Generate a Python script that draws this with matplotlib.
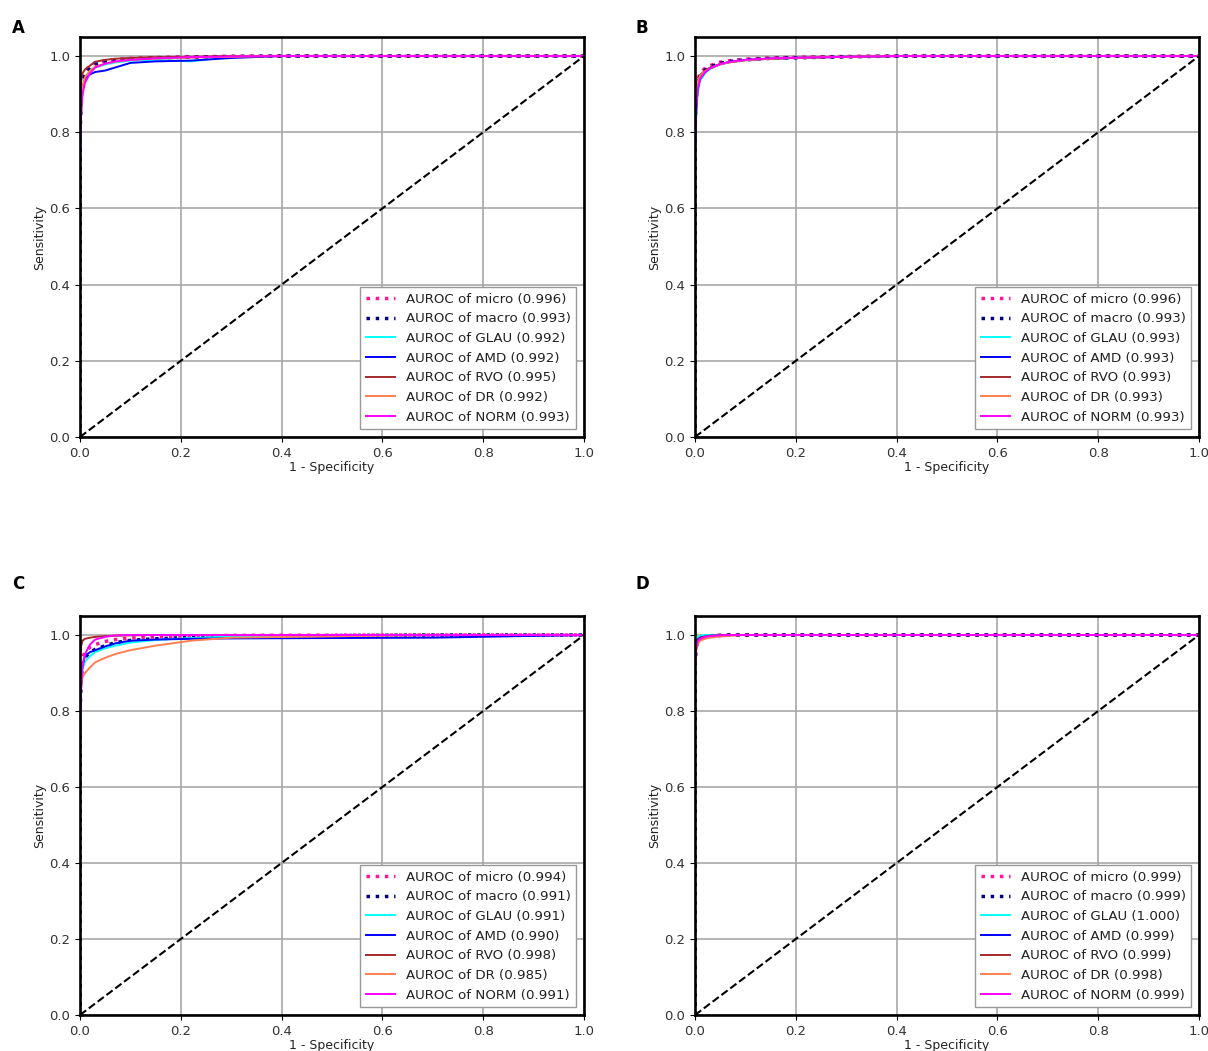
import matplotlib
matplotlib.use("Agg")
import matplotlib.pyplot as plt

CLASS_NAMES = ["GLAU", "AMD", "RVO", "DR", "NORM"]
CLASS_COLORS = ["aqua", "blue", "brown", "coral", "magenta"]
PANEL_LETTERS = ["A", "B", "C", "D"]

# AUROC values shown in the legends (micro, macro, GLAU, AMD, RVO, DR, NORM)
AUC_A = [0.996, 0.993, 0.992, 0.992, 0.995, 0.992, 0.993]
AUC_B = [0.996, 0.993, 0.993, 0.993, 0.993, 0.993, 0.993]
AUC_C = [0.994, 0.991, 0.991, 0.990, 0.998, 0.985, 0.991]
AUC_D = [0.999, 0.999, 1.000, 0.999, 0.999, 0.998, 0.999]

# shared false positive rate points per panel
FPR_A = [0, 0, 0.002, 0.005, 0.01, 0.02, 0.03, 0.05, 0.07, 0.1, 0.15, 0.22, 0.3, 0.4, 1.0]
FPR_B = [0, 0, 0.002, 0.005, 0.01, 0.02, 0.03, 0.05, 0.07, 0.1, 0.15, 0.22, 0.3, 0.4, 1.0]
FPR_C = [0, 0, 0.002, 0.005, 0.01, 0.02, 0.03, 0.05, 0.07, 0.1, 0.15, 0.22, 0.3, 0.7, 1.0]
FPR_D = [0, 0, 0.002, 0.005, 0.01, 0.02, 0.03, 0.05, 0.07, 0.1, 0.15, 0.22, 0.3, 0.4, 1.0]

# panel A true positive rates
A_MICRO = [0, 0.80, 0.90, 0.94, 0.960, 0.975, 0.982, 0.988, 0.991, 0.994, 0.996, 0.998, 0.999, 1.0, 1.0]
A_MACRO = [0, 0.78, 0.88, 0.93, 0.955, 0.970, 0.978, 0.985, 0.989, 0.992, 0.995, 0.997, 0.999, 1.0, 1.0]
A_GLAU = [0, 0.75, 0.85, 0.91, 0.940, 0.960, 0.970, 0.978, 0.983, 0.988, 0.990, 0.986, 0.998, 1.0, 1.0]
A_AMD = [0, 0.80, 0.88, 0.92, 0.940, 0.952, 0.958, 0.962, 0.970, 0.982, 0.986, 0.988, 0.995, 1.0, 1.0]
A_RVO = [0, 0.88, 0.93, 0.955, 0.965, 0.975, 0.985, 0.990, 0.993, 0.995, 0.997, 0.998, 1.0, 1.0, 1.0]
A_DR = [0, 0.78, 0.87, 0.92, 0.945, 0.962, 0.972, 0.980, 0.985, 0.990, 0.993, 0.996, 0.998, 1.0, 1.0]
A_NORM = [0, 0.72, 0.84, 0.90, 0.930, 0.955, 0.970, 0.980, 0.986, 0.990, 0.994, 0.997, 0.999, 1.0, 1.0]

# panel B true positive rates
B_MICRO = [0, 0.82, 0.90, 0.935, 0.955, 0.968, 0.975, 0.984, 0.988, 0.992, 0.995, 0.997, 0.999, 1.0, 1.0]
B_MACRO = [0, 0.80, 0.88, 0.925, 0.948, 0.963, 0.972, 0.981, 0.986, 0.990, 0.994, 0.996, 0.998, 1.0, 1.0]
B_GLAU = [0, 0.72, 0.83, 0.90, 0.935, 0.955, 0.966, 0.978, 0.984, 0.989, 0.993, 0.996, 0.998, 1.0, 1.0]
B_AMD = [0, 0.76, 0.85, 0.91, 0.940, 0.958, 0.968, 0.979, 0.985, 0.990, 0.993, 0.996, 0.998, 1.0, 1.0]
B_RVO = [0, 0.86, 0.91, 0.935, 0.950, 0.962, 0.970, 0.979, 0.984, 0.989, 0.993, 0.996, 0.998, 1.0, 1.0]
B_DR = [0, 0.84, 0.90, 0.930, 0.948, 0.960, 0.968, 0.978, 0.984, 0.989, 0.993, 0.996, 0.998, 1.0, 1.0]
B_NORM = [0, 0.74, 0.85, 0.91, 0.940, 0.958, 0.968, 0.979, 0.985, 0.990, 0.994, 0.996, 0.998, 1.0, 1.0]

# panel C true positive rates
C_MICRO = [0, 0.80, 0.90, 0.94, 0.955, 0.968, 0.975, 0.983, 0.988, 0.992, 0.995, 0.997, 0.999, 1.0, 1.0]
C_MACRO = [0, 0.78, 0.88, 0.92, 0.940, 0.955, 0.962, 0.972, 0.980, 0.986, 0.990, 0.994, 0.997, 1.0, 1.0]
C_GLAU = [0, 0.74, 0.86, 0.91, 0.930, 0.945, 0.955, 0.965, 0.972, 0.980, 0.987, 0.992, 0.996, 1.0, 1.0]
C_AMD = [0, 0.80, 0.88, 0.92, 0.945, 0.955, 0.960, 0.970, 0.978, 0.985, 0.988, 0.990, 0.991, 0.993, 1.0]
C_RVO = [0, 0.94, 0.97, 0.985, 0.990, 0.993, 0.995, 0.997, 0.998, 0.999, 1.0, 1.0, 1.0, 1.0, 1.0]
C_DR = [0, 0.78, 0.86, 0.89, 0.900, 0.915, 0.928, 0.940, 0.950, 0.960, 0.972, 0.985, 0.993, 1.0, 1.0]
C_NORM = [0, 0.70, 0.85, 0.92, 0.950, 0.975, 0.988, 0.995, 0.999, 1.0, 1.0, 1.0, 1.0, 1.0, 1.0]

# panel D true positive rates
D_MICRO = [0, 0.93, 0.97, 0.985, 0.992, 0.996, 0.998, 0.999, 1.0, 1.0, 1.0, 1.0, 1.0, 1.0, 1.0]
D_MACRO = [0, 0.92, 0.965, 0.982, 0.990, 0.995, 0.997, 0.999, 1.0, 1.0, 1.0, 1.0, 1.0, 1.0, 1.0]
D_GLAU = [0, 0.96, 0.985, 0.995, 0.998, 1.0, 1.0, 1.0, 1.0, 1.0, 1.0, 1.0, 1.0, 1.0, 1.0]
D_AMD = [0, 0.94, 0.975, 0.988, 0.993, 0.996, 0.998, 0.999, 1.0, 1.0, 1.0, 1.0, 1.0, 1.0, 1.0]
D_RVO = [0, 0.93, 0.97, 0.985, 0.992, 0.996, 0.998, 0.999, 1.0, 1.0, 1.0, 1.0, 1.0, 1.0, 1.0]
D_DR = [0, 0.90, 0.955, 0.975, 0.985, 0.990, 0.993, 0.996, 0.998, 1.0, 1.0, 1.0, 1.0, 1.0, 1.0]
D_NORM = [0, 0.92, 0.965, 0.982, 0.990, 0.995, 0.997, 0.999, 1.0, 1.0, 1.0, 1.0, 1.0, 1.0, 1.0]

PANELS = [
    (FPR_A, [A_MICRO, A_MACRO, A_GLAU, A_AMD, A_RVO, A_DR, A_NORM], AUC_A),
    (FPR_B, [B_MICRO, B_MACRO, B_GLAU, B_AMD, B_RVO, B_DR, B_NORM], AUC_B),
    (FPR_C, [C_MICRO, C_MACRO, C_GLAU, C_AMD, C_RVO, C_DR, C_NORM], AUC_C),
    (FPR_D, [D_MICRO, D_MACRO, D_GLAU, D_AMD, D_RVO, D_DR, D_NORM], AUC_D),
]

W, H = 1208, 1051
# axes boxes in pixels: left, top, right, bottom
BOXES = [(80, 37, 584, 437), (695, 37, 1199, 437), (80, 616, 584, 1015), (695, 616, 1199, 1015)]
LETTER_POS = [(12, 28), (635, 28), (12, 584), (635, 584)]


def draw_panel(ax, fpr, tprs, aucs):
    ax.plot(fpr, tprs[0], color="deeppink", linestyle=":", linewidth=2.5,
            label="AUROC of micro ({:.3f})".format(aucs[0]))
    ax.plot(fpr, tprs[1], color="navy", linestyle=":", linewidth=2.5,
            label="AUROC of macro ({:.3f})".format(aucs[1]))
    for i, name in enumerate(CLASS_NAMES):
        ax.plot(fpr, tprs[i + 2], color=CLASS_COLORS[i], linewidth=1.4,
                label="AUROC of {} ({:.3f})".format(name, aucs[i + 2]))
    ax.plot([0, 1], [0, 1], "k--", linewidth=1.5)
    ax.set_xlim(0.0, 1.0)
    ax.set_ylim(0.0, 1.05)
    ax.set_xticks([0.0, 0.2, 0.4, 0.6, 0.8, 1.0])
    ax.set_yticks([0.0, 0.2, 0.4, 0.6, 0.8, 1.0])
    ax.grid(True, color="#a8a8a8", linewidth=1.2)
    ax.tick_params(labelsize=9.5, color="black", labelcolor="#333333")
    ax.set_xlabel("1 - Specificity", fontsize=9, labelpad=1, color="#222222")
    ax.set_ylabel("Sensitivity", fontsize=9, labelpad=2, color="#222222")
    for sp in ax.spines.values():
        sp.set_linewidth(1.9)
    leg = ax.legend(loc="lower right", fontsize=9.6, fancybox=False,
                    edgecolor="#999999", framealpha=1.0, handlelength=2.2,
                    borderaxespad=0.6)
    leg.get_frame().set_linewidth(1.0)
    for txt in leg.get_texts():
        txt.set_color("#222222")


fig = plt.figure(figsize=(W / 100, H / 100), dpi=100)
for (fpr, tprs, aucs), (l, t, r, b), (lx, ly), letter in zip(PANELS, BOXES, LETTER_POS, PANEL_LETTERS):
    ax = fig.add_axes([l / W, 1 - b / H, (r - l) / W, (b - t) / H])
    draw_panel(ax, fpr, tprs, aucs)
    fig.text(lx / W, 1 - ly / H, letter, fontsize=12, fontweight="bold", va="center", ha="left")

fig.savefig("out.png", dpi=100)
